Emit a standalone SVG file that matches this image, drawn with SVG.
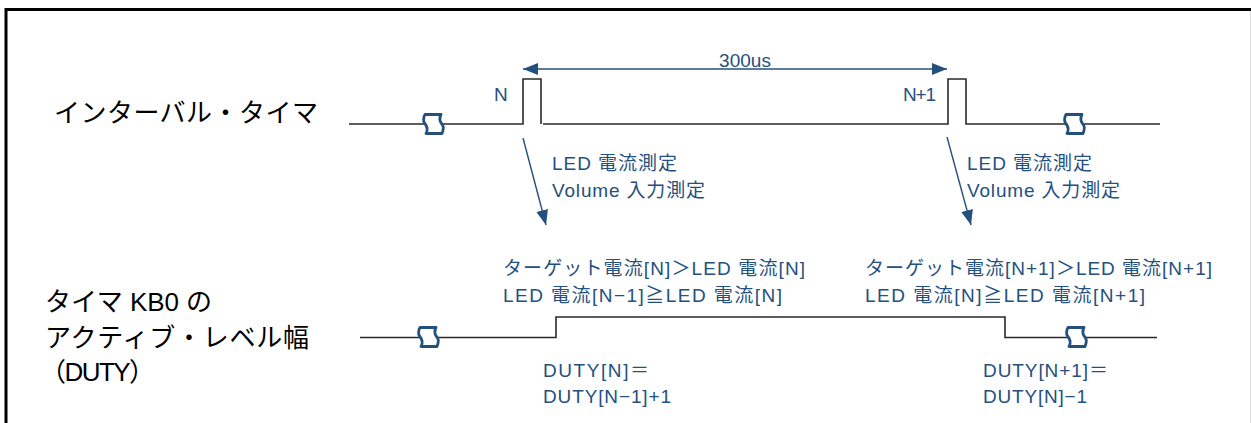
<svg xmlns="http://www.w3.org/2000/svg" width="1251" height="423" viewBox="0 0 1251 423">
<style>
.frame{fill:none;stroke:#000;stroke-width:3}
.sig{fill:none;stroke:#2a2a2a;stroke-width:1.6}
.brk{fill:#fff;stroke:#24507e;stroke-width:2.8;stroke-linejoin:round}
.arr{fill:none;stroke:#24507e;stroke-width:1.4}
.lbl{font-family:"Liberation Sans","Noto Sans CJK JP",sans-serif;font-size:26px;fill:#000}
.bt{font-family:"Liberation Sans","Noto Sans CJK JP",sans-serif;font-size:19px;fill:#24507e}
</style>
<defs>
<marker id="ah" viewBox="0 0 15 12" refX="15" refY="6" markerWidth="15" markerHeight="12" markerUnits="userSpaceOnUse" orient="auto-start-reverse">
<path d="M0,0 L15,6 L0,12 Z" fill="#24507e"/>
</marker>
<path id="brk" d="M-8,-9.5 H8 C6,-6 7,-2 9.5,1 C11,3 10,7 9,9.5 H-7 C-5,6 -6,2 -8.5,-1 C-10,-3 -9.5,-7 -8,-9.5 Z"/>
</defs>
<rect width="1251" height="423" fill="#fff"/>
<path class="frame" d="M6,423 V9.5 H1251"/>
<line x1="1250.5" y1="11" x2="1250.5" y2="423" stroke="#ddd" stroke-width="1"/>

<g id="label-interval"><text class="lbl" x="54" y="122" textLength="264" lengthAdjust="spacing">インターバル・タイマ</text></g>
<g id="label-kb0">
<text class="lbl" x="45" y="311" textLength="167" lengthAdjust="spacing">タイマ KB0 の</text>
<text class="lbl" x="45" y="347" textLength="264" lengthAdjust="spacing">アクティブ・レベル幅</text>
<text class="lbl" x="40" y="381" textLength="115" lengthAdjust="spacing">（DUTY）</text>
</g>

<g id="signal-interval">
<path class="sig" d="M349,124 H523 V79 H541 V124 M543,124 H948 V79 H966 V124 H1160"/>
<use href="#brk" class="brk" x="433" y="124"/>
<use href="#brk" class="brk" x="1074" y="124"/>
</g>

<g id="signal-duty">
<path class="sig" d="M360,337.5 H556 V317 H1005 V337.5 H1157"/>
<use href="#brk" class="brk" x="428" y="337"/>
<use href="#brk" class="brk" x="1076" y="337"/>
</g>

<g id="connectors">
<line class="arr" x1="523" y1="69" x2="947" y2="69" marker-start="url(#ah)" marker-end="url(#ah)"/>
<line class="arr" x1="523" y1="138" x2="546" y2="225" marker-end="url(#ah)"/>
<line class="arr" x1="947" y1="137" x2="971" y2="225" marker-end="url(#ah)"/>
</g>

<g id="label-300us"><text class="bt" x="745" y="67" text-anchor="middle">300us</text></g>
<g id="label-n"><text class="bt" x="494" y="101">N</text></g>
<g id="label-n1"><text class="bt" x="903" y="101" textLength="33" lengthAdjust="spacing">N+1</text></g>

<g id="meas-n">
<text class="bt" x="552" y="170" textLength="125" lengthAdjust="spacing">LED 電流測定</text>
<text class="bt" x="552" y="197" textLength="153" lengthAdjust="spacing">Volume 入力測定</text>
</g>
<g id="meas-n1">
<text class="bt" x="967" y="170" textLength="125" lengthAdjust="spacing">LED 電流測定</text>
<text class="bt" x="967" y="197" textLength="153" lengthAdjust="spacing">Volume 入力測定</text>
</g>

<g id="cond-n">
<text class="bt" x="503" y="275" textLength="302" lengthAdjust="spacing">ターゲット電流[N]＞LED 電流[N]</text>
<text class="bt" x="503" y="302" textLength="279" lengthAdjust="spacing">LED 電流[N−1]≧LED 電流[N]</text>
</g>
<g id="cond-n1">
<text class="bt" x="865" y="275" textLength="347" lengthAdjust="spacing">ターゲット電流[N+1]＞LED 電流[N+1]</text>
<text class="bt" x="865" y="302" textLength="280" lengthAdjust="spacing">LED 電流[N]≧LED 電流[N+1]</text>
</g>

<g id="duty-n">
<text class="bt" x="543" y="377" textLength="106" lengthAdjust="spacing">DUTY[N]＝</text>
<text class="bt" x="543" y="403" textLength="128" lengthAdjust="spacing">DUTY[N−1]+1</text>
</g>
<g id="duty-n1">
<text class="bt" x="983" y="377" textLength="125" lengthAdjust="spacing">DUTY[N+1]＝</text>
<text class="bt" x="983" y="403" textLength="104" lengthAdjust="spacing">DUTY[N]−1</text>
</g>
</svg>
